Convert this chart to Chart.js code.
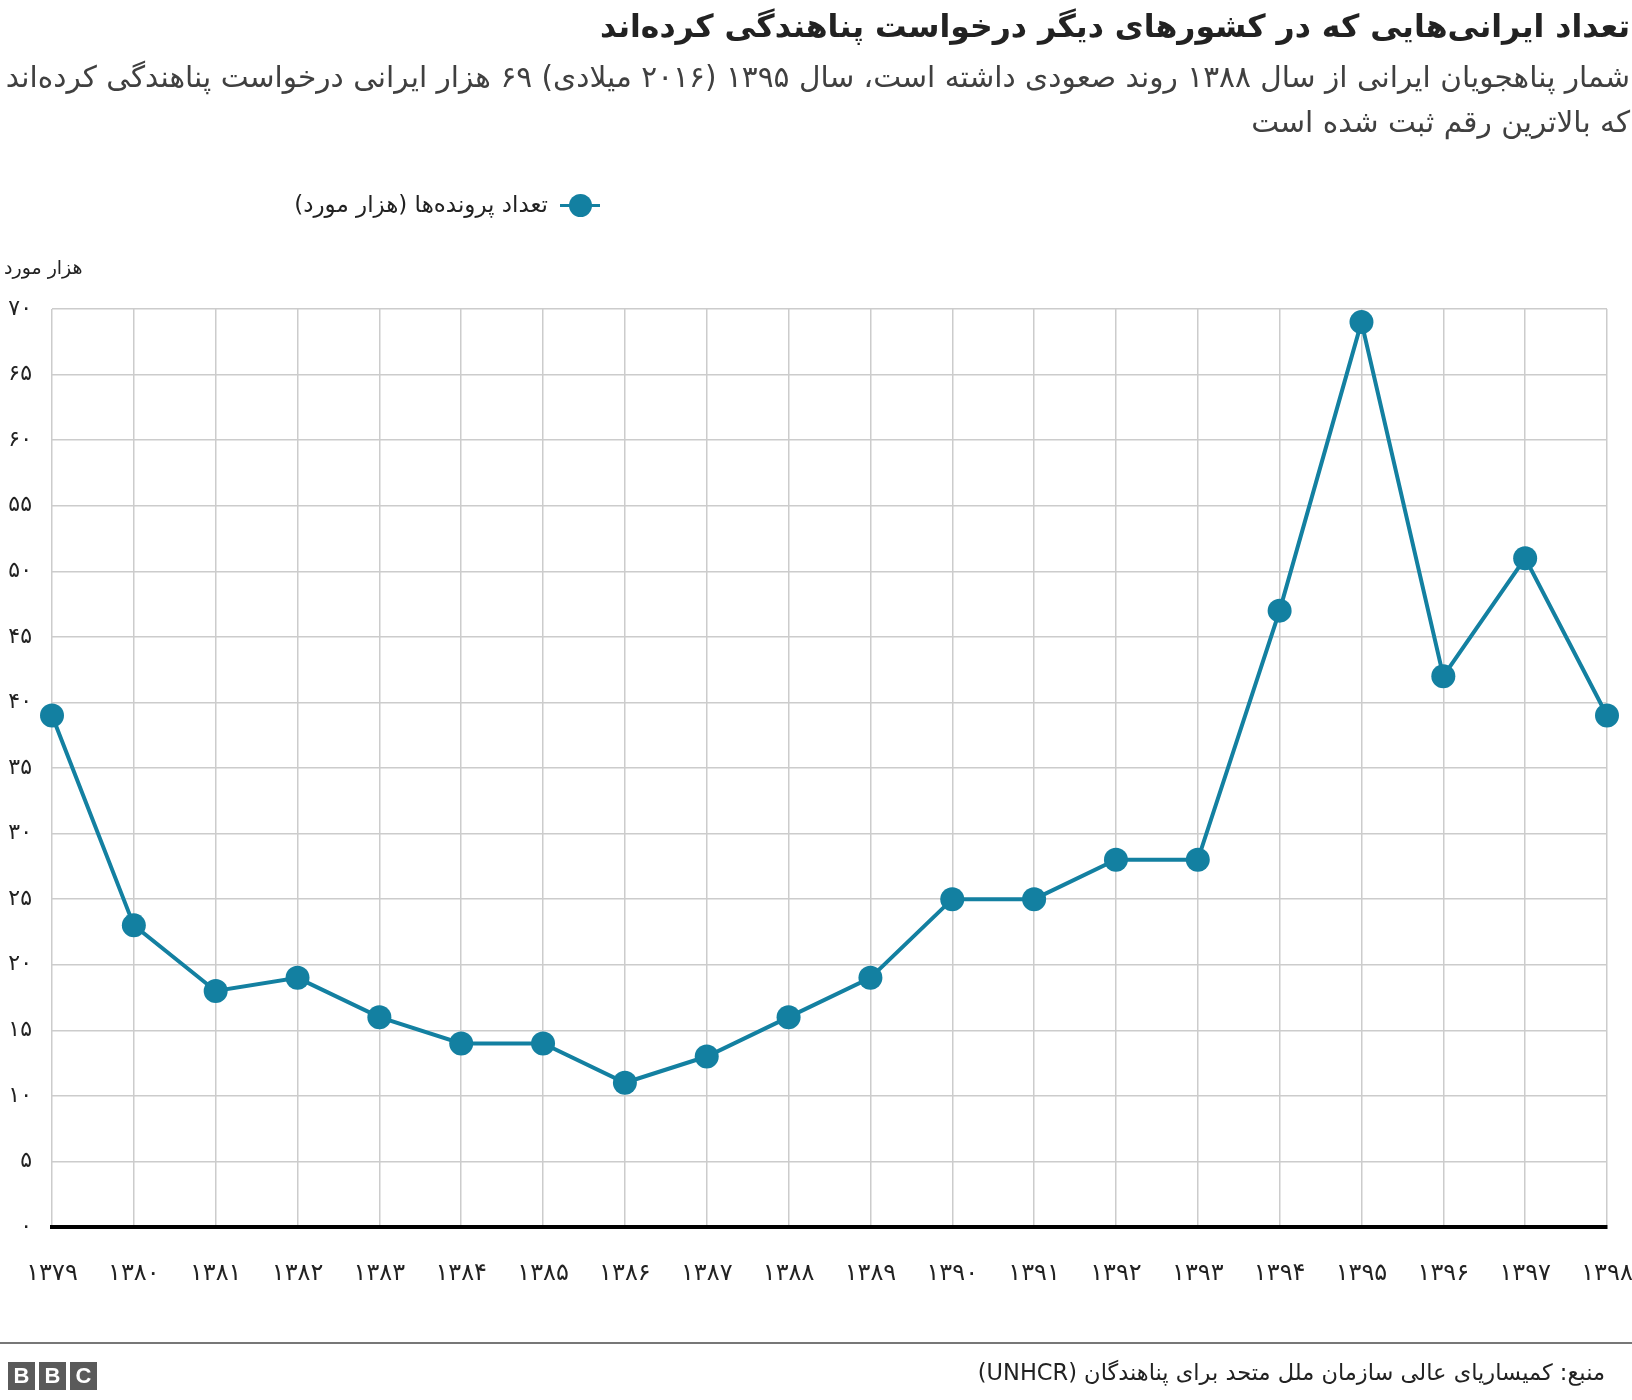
<!DOCTYPE html>
<html lang="fa">
<head>
<meta charset="utf-8">
<title>پناهجویان ایرانی</title>
<script src="https://cdn.jsdelivr.net/npm/chart.js@4.4.1/dist/chart.umd.min.js"></script>
<style>
  html, body { margin: 0; padding: 0; background: #fff; }
  body { width: 1632px; height: 1400px; position: relative; overflow: hidden; font-family: "DejaVu Sans", sans-serif; color: #222; }
  #chart-wrap { position: absolute; left: 0; top: 0; width: 1632px; height: 1400px; }
  .rtl { position: absolute; direction: rtl; white-space: nowrap; }
  #title { right: 2px; top: 8px; font-size: 31.5px; font-weight: bold; color: #222; }
  #subtitle { right: 2px; top: 55px; font-size: 29.6px; line-height: 45px; color: #404040; text-align: right; }
  #legend { right: 1032px; top: 188px; font-size: 23px; line-height: 32px; color: #222; }
  #legend .marker { display: inline-block; position: relative; width: 40px; height: 24px; vertical-align: middle; margin-left: 12px; }
  #legend .marker .ln { position: absolute; left: 0; right: 0; top: 10px; height: 3px; background: #1380A1; }
  #legend .marker .dot { position: absolute; left: 9px; top: 0; width: 23px; height: 23px; border-radius: 50%; background: #1380A1; }
  #unit { left: 4px; top: 256px; font-size: 19px; color: #222; }
  #rule { position: absolute; left: 0; top: 1342px; width: 1632px; height: 2px; background: #777; }
  #source { right: 27px; top: 1359px; font-size: 22.5px; color: #222; }
  #bbc { position: absolute; left: 8px; top: 1362px; }
  #bbc span { display: inline-block; width: 27px; height: 28px; margin-right: 4px; background: #5a5a5a; color: #fff;
              font: bold 22px "Liberation Sans", sans-serif; text-align: center; line-height: 28px; }
</style>
</head>
<body>
<div id="chart-wrap"><canvas id="chart" width="1632" height="1400"></canvas></div>

<div id="title" class="rtl">تعداد ایرانی‌هایی که در کشورهای دیگر درخواست پناهندگی کرده‌اند</div>
<div id="subtitle" class="rtl">شمار پناهجویان ایرانی از سال ۱۳۸۸ روند صعودی داشته است، سال ۱۳۹۵ (۲۰۱۶ میلادی) ۶۹ هزار ایرانی درخواست پناهندگی کرده‌اند<br>که بالاترین رقم ثبت شده است</div>
<div id="legend" class="rtl"><span class="marker"><span class="ln"></span><span class="dot"></span></span><span id="legend-text"></span></div>
<div id="unit" class="rtl">هزار مورد</div>
<div id="rule"></div>
<div id="bbc"><span>B</span><span>B</span><span>C</span></div>
<div id="source" class="rtl">منبع: کمیساریای عالی سازمان ملل متحد برای پناهندگان (UNHCR)</div>

<script>
// years (solar hijri), left to right
const years = ['۱۳۷۹', '۱۳۸۰', '۱۳۸۱', '۱۳۸۲', '۱۳۸۳', '۱۳۸۴', '۱۳۸۵', '۱۳۸۶', '۱۳۸۷', '۱۳۸۸',
               '۱۳۸۹', '۱۳۹۰', '۱۳۹۱', '۱۳۹۲', '۱۳۹۳', '۱۳۹۴', '۱۳۹۵', '۱۳۹۶', '۱۳۹۷', '۱۳۹۸'];
// asylum applications, thousands
const cases = [39, 23, 18, 19, 16, 14, 14, 11, 13, 16, 19, 25, 25, 28, 28, 47, 69, 42, 51, 39];
// y tick labels, 0..70 step 5
const yTickLabels = ['۰', '۵', '۱۰', '۱۵', '۲۰', '۲۵', '۳۰', '۳۵', '۴۰', '۴۵', '۵۰', '۵۵', '۶۰', '۶۵', '۷۰'];
const seriesName = 'تعداد پرونده‌ها (هزار مورد)';

const lineColour = '#1380A1';
const gridColour = '#cccccc';

document.getElementById('legend-text').textContent = seriesName;

window.addEventListener('load', function () {
    let ctx = document.getElementById('chart').getContext('2d');
    new Chart(ctx, {
        type: 'line',
        data: {
            labels: years,
            datasets: [{
                label: seriesName,
                data: cases,
                borderColor: lineColour,
                backgroundColor: lineColour,
                borderWidth: 4,
                pointRadius: 12,
                pointHoverRadius: 12,
                pointBorderWidth: 0,
                pointBackgroundColor: lineColour,
                tension: 0,
                clip: false
            }]
        },
        options: {
            responsive: false,
            animation: false,
            layout: { padding: { top: 309, left: 0, right: 25, bottom: 113 } },
            plugins: {
                legend: { display: false },
                tooltip: { enabled: false }
            },
            scales: {
                x: {
                    grid: { color: gridColour, lineWidth: 1.5, drawTicks: false },
                    border: { color: '#000', width: 4 },
                    ticks: {
                        color: '#222',
                        font: { family: 'DejaVu Sans', size: 24 },
                        padding: 32,
                        maxRotation: 0,
                        autoSkip: false
                    },
                    afterFit: function (scale) {
                        scale.height = 60;
                        scale.paddingLeft = 0;
                        scale.paddingRight = 0;
                    }
                },
                y: {
                    min: 0,
                    max: 70,
                    grid: { color: gridColour, lineWidth: 1.5, drawTicks: false },
                    border: { display: false },
                    ticks: {
                        stepSize: 5,
                        color: '#222',
                        font: { family: 'DejaVu Sans', size: 22 },
                        padding: 20,
                        callback: function (value) { return yTickLabels[value / 5]; }
                    },
                    afterFit: function (scale) {
                        scale.width = 52;
                        scale.paddingTop = 0;
                        scale.paddingBottom = 0;
                    }
                }
            }
        }
    });
});
</script>
</body>
</html>
